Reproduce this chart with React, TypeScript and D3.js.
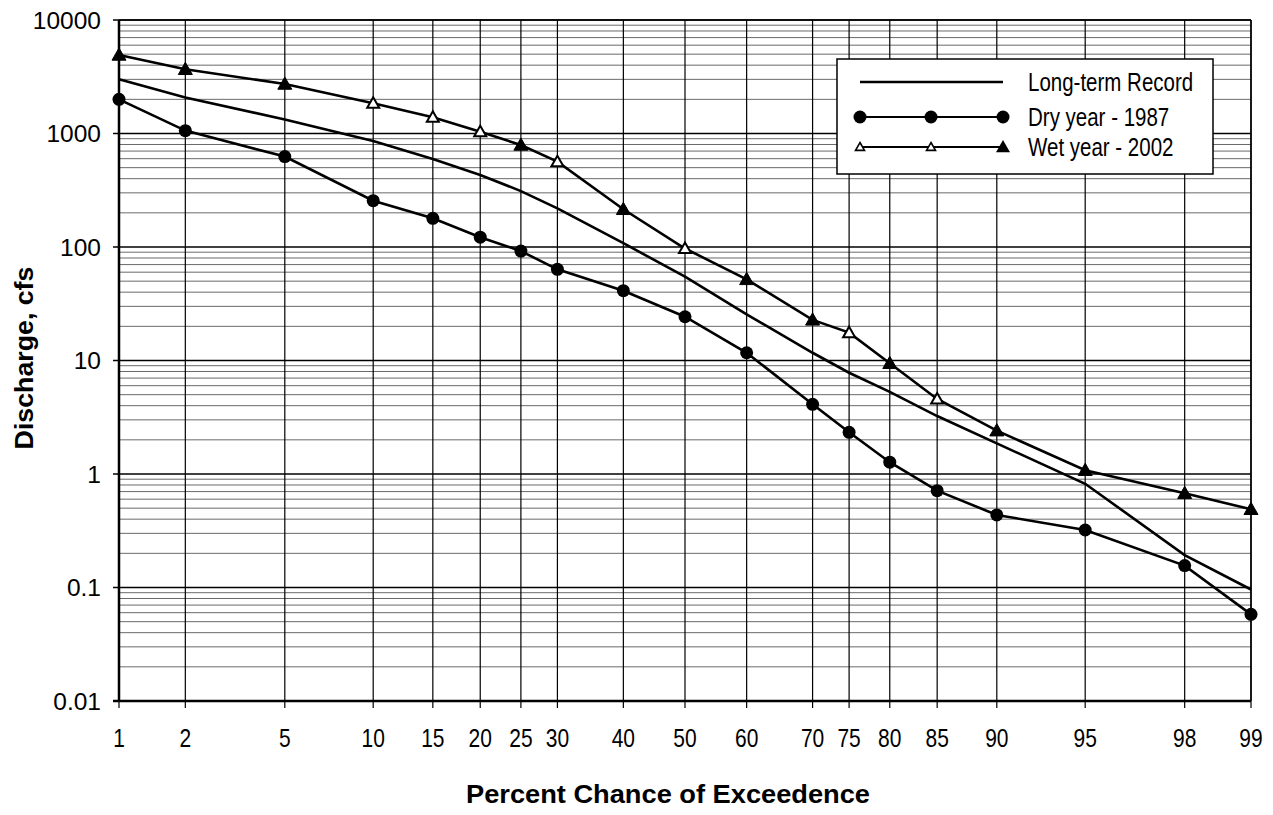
import React from 'react';
import * as d3 from 'd3';

// ---- data ----
const pctTicks = [1, 2, 5, 10, 15, 20, 25, 30, 40, 50, 60, 70, 75, 80, 85, 90, 95, 98, 99];
const longTermPct = [1, 2, 5, 10, 15, 20, 25, 30, 40, 50, 60, 70, 75, 80, 85, 90, 95, 98, 99];
const longTermQ = [3000, 2080, 1330, 860, 596, 431, 311, 219, 108, 54.8, 25.5, 11.7, 7.8, 5.3, 3.24, 1.86, 0.82, 0.193, 0.096];
const dryPct = [1, 2, 5, 10, 15, 20, 25, 30, 40, 50, 60, 70, 75, 80, 85, 90, 95, 98, 99];
const dryQ = [2000, 1060, 626, 256, 179, 122, 92, 63.6, 41.2, 24.3, 11.7, 4.11, 2.33, 1.27, 0.713, 0.436, 0.321, 0.156, 0.058];
const wetPct = [1, 2, 5, 10, 15, 20, 25, 30, 40, 50, 60, 70, 75, 80, 85, 90, 95, 98, 99];
const wetQ = [4920, 3680, 2730, 1845, 1390, 1038, 792, 565, 215, 97, 51.9, 22.8, 17.6, 9.45, 4.58, 2.41, 1.08, 0.676, 0.489];
const yTicks = [0.01, 0.1, 1, 10, 100, 1000, 10000];
const yTickLabels = ['0.01', '0.1', '1', '10', '100', '1000', '10000'];
const legendLabels = ['Long-term Record', 'Dry year - 1987', 'Wet year - 2002'];
const xTitle = 'Percent Chance of Exceedence';
const yTitle = 'Discharge, cfs';

// styling: wet-year markers that appear hollow in the original
const HOLLOW_WET = [10, 15, 20, 30, 50, 75, 85];

// inverse normal CDF (Acklam)
function probit(p: number): number {
  const a = [-3.969683028665376e1, 2.209460984245205e2, -2.759285104469687e2, 1.38357751867269e2, -3.066479806614716e1, 2.506628277459239];
  const b = [-5.447609879822406e1, 1.615858368580409e2, -1.556989798598866e2, 6.680131188771972e1, -1.328068155288572e1];
  const c = [-7.784894002430293e-3, -3.223964580411365e-1, -2.400758277161838, -2.549732539343734, 4.374664141464968, 2.938163982698783];
  const d = [7.784695709041462e-3, 3.224671290700398e-1, 2.445134137142996, 3.754408661907416];
  const pl = 0.02425;
  if (p < pl) {
    const q = Math.sqrt(-2 * Math.log(p));
    return (((((c[0] * q + c[1]) * q + c[2]) * q + c[3]) * q + c[4]) * q + c[5]) / ((((d[0] * q + d[1]) * q + d[2]) * q + d[3]) * q + 1);
  }
  if (p > 1 - pl) {
    const q = Math.sqrt(-2 * Math.log(1 - p));
    return -(((((c[0] * q + c[1]) * q + c[2]) * q + c[3]) * q + c[4]) * q + c[5]) / ((((d[0] * q + d[1]) * q + d[2]) * q + d[3]) * q + 1);
  }
  const q = p - 0.5;
  const r = q * q;
  return (((((a[0] * r + a[1]) * r + a[2]) * r + a[3]) * r + a[4]) * r + a[5]) * q / (((((b[0] * r + b[1]) * r + b[2]) * r + b[3]) * r + b[4]) * r + 1);
}

const W = 1273, H = 815;
const L = 119, R = 1251, T = 20, B = 701;

export default function App() {
  const zScale = d3.scaleLinear().domain([probit(0.01), probit(0.99)]).range([L, R]);
  const x = (p: number) => zScale(probit(p / 100));
  const y = d3.scaleLog().domain([0.01, 10000]).range([B, T]);

  const minor: number[] = [];
  for (let e = -2; e < 4; e++) {
    for (let k = 2; k <= 9; k++) minor.push(k * Math.pow(10, e));
  }

  const line = d3.line<[number, number]>().x(d => x(d[0])).y(d => y(d[1]));
  const ltPts = longTermPct.map((p, i) => [p, longTermQ[i]] as [number, number]);
  const dryPts = dryPct.map((p, i) => [p, dryQ[i]] as [number, number]);
  const wetPts = wetPct.map((p, i) => [p, wetQ[i]] as [number, number]);

  const tri = (cx: number, cy: number, s: number) =>
    `M${cx},${cy - s}L${cx + s},${cy + s * 0.75}L${cx - s},${cy + s * 0.75}Z`;

  const font = '"Liberation Sans", Arial, sans-serif';

  const legRows = [82, 117, 147];

  return (
    <svg width={W} height={H} style={{ position: 'absolute', left: 0, top: 0, background: '#fff' }} fontFamily={font}>
      <rect x={0} y={0} width={W} height={H} fill="#fff" />
      {/* minor horizontal grid */}
      {minor.map((v, i) => (
        <line key={'m' + i} x1={L} x2={R} y1={y(v)} y2={y(v)} stroke="#6a6a6a" strokeWidth={1} />
      ))}
      {/* major horizontal grid */}
      {yTicks.map((v, i) => (
        <line key={'M' + i} x1={L - 6} x2={R} y1={y(v)} y2={y(v)} stroke="#000" strokeWidth={1.3} />
      ))}
      {/* vertical grid */}
      {pctTicks.map((p, i) => (
        <line key={'v' + i} x1={x(p)} x2={x(p)} y1={T} y2={B + 7} stroke="#000" strokeWidth={1.2} />
      ))}
      {/* axes */}
      <line x1={L} x2={L} y1={T} y2={B} stroke="#000" strokeWidth={2.5} />
      <line x1={L - 6} x2={R} y1={B} y2={B} stroke="#000" strokeWidth={2.5} />
      <line x1={L} x2={R} y1={T} y2={T} stroke="#000" strokeWidth={1.5} />
      <line x1={R} x2={R} y1={T} y2={B} stroke="#000" strokeWidth={1.5} />

      {/* y tick labels */}
      {yTicks.map((v, i) => (
        <text key={'yl' + i} x={101} y={y(v) + 8.5} textAnchor="end" fontSize={24.5}>{yTickLabels[i]}</text>
      ))}
      {/* x tick labels (condensed) */}
      {pctTicks.map((p, i) => (
        <text key={'xl' + i} transform={`translate(${x(p)},746.5) scale(0.84,1)`} textAnchor="middle" fontSize={25}>{p}</text>
      ))}

      {/* series */}
      <path d={line(ltPts) || ''} fill="none" stroke="#000" strokeWidth={2.6} />
      <path d={line(dryPts) || ''} fill="none" stroke="#000" strokeWidth={2.6} />
      <path d={line(wetPts) || ''} fill="none" stroke="#000" strokeWidth={2.6} />
      {dryPts.map((d, i) => (
        <circle key={'dc' + i} cx={x(d[0])} cy={y(d[1])} r={6.5} fill="#000" />
      ))}
      {wetPts.map((d, i) => {
        const hollow = HOLLOW_WET.includes(d[0]);
        return (
          <path key={'wt' + i} d={tri(x(d[0]), y(d[1]), hollow ? 6 : 7)}
            fill={hollow ? '#fff' : '#000'} stroke="#000" strokeWidth={hollow ? 2 : 1} />
        );
      })}

      {/* legend */}
      <rect x={837} y={59} width={376} height={115} fill="#fff" stroke="#000" strokeWidth={1.5} />
      <line x1={860} x2={1003} y1={legRows[0]} y2={legRows[0]} stroke="#000" strokeWidth={2.6} />
      <line x1={860} x2={1003} y1={legRows[1]} y2={legRows[1]} stroke="#000" strokeWidth={2} />
      {[860, 931, 1003].map((cx, i) => (
        <circle key={'lc' + i} cx={cx} cy={legRows[1]} r={6.5} fill="#000" />
      ))}
      <line x1={860} x2={1003} y1={legRows[2]} y2={legRows[2]} stroke="#000" strokeWidth={2} />
      <path d={tri(860, legRows[2], 4.5)} fill="#fff" stroke="#000" strokeWidth={1.6} />
      <path d={tri(931, legRows[2], 4.5)} fill="#fff" stroke="#000" strokeWidth={1.6} />
      <path d={tri(1003, legRows[2], 7)} fill="#000" />
      {legendLabels.map((t, i) => (
        <text key={'lt' + i} transform={`translate(1028,${legRows[i] + 9}) scale(0.82,1)`} fontSize={25}>{t}</text>
      ))}

      {/* titles */}
      <text transform={`translate(668,803) scale(1.09,1)`} textAnchor="middle" fontSize={25} fontWeight="bold">{xTitle}</text>
      <text transform={`translate(33,358) rotate(-90) scale(1.07,1)`} textAnchor="middle" fontSize={25} fontWeight="bold">{yTitle}</text>
    </svg>
  );
}
